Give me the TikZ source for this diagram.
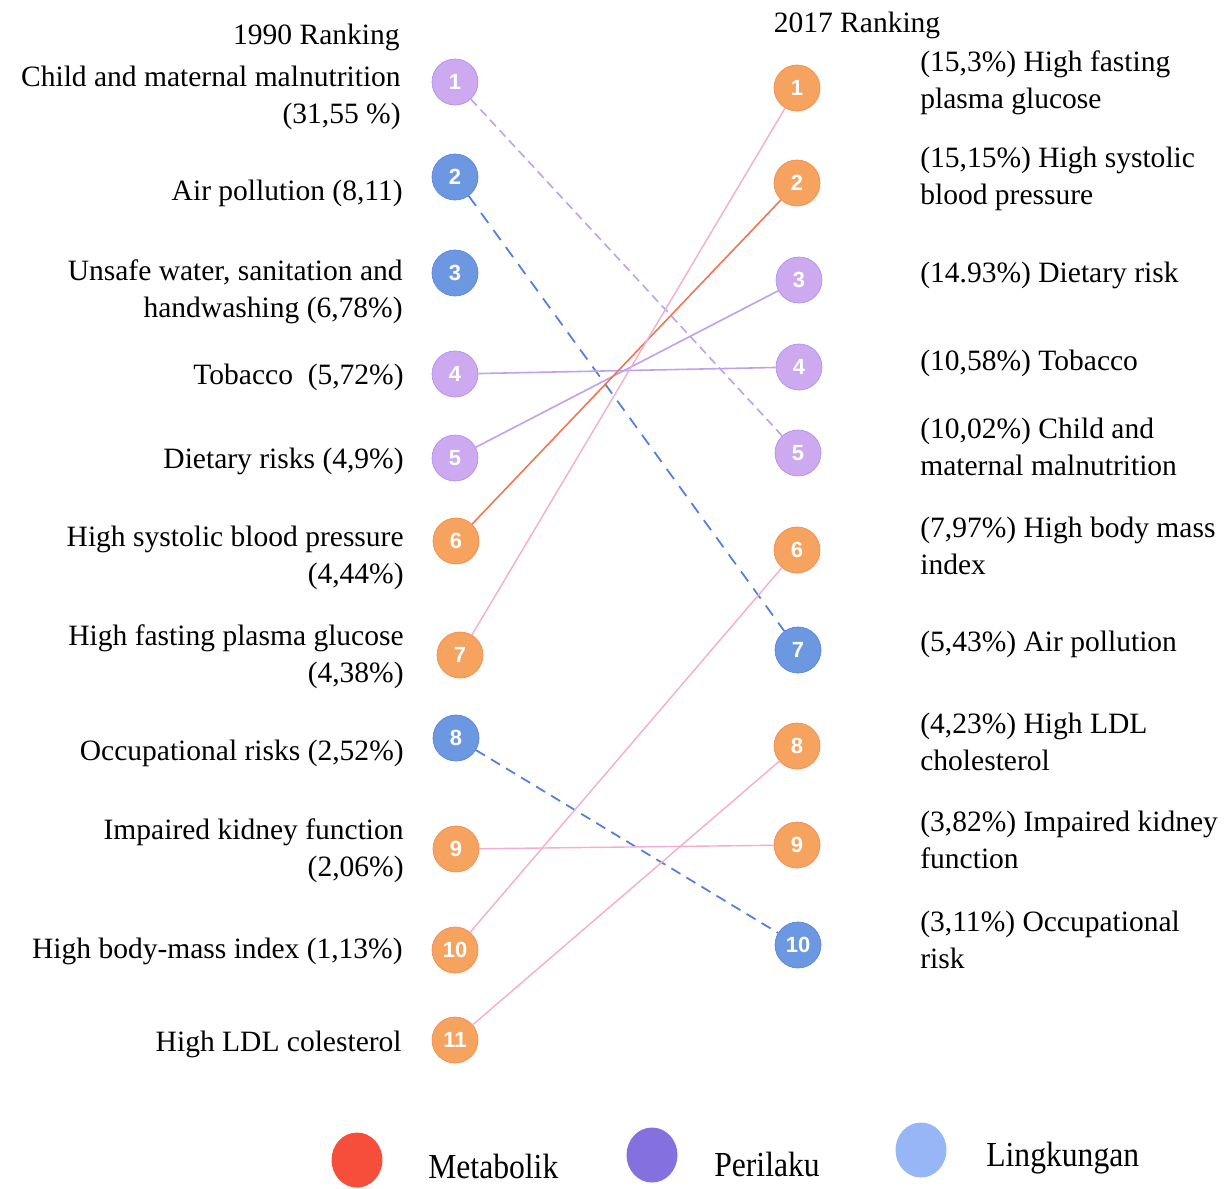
\documentclass[tikz,border=0pt]{standalone}
\usepackage{fontspec}
\setmainfont{Liberation Serif}
\setsansfont{Liberation Sans}
\usetikzlibrary{positioning,shapes.geometric}

\definecolor{metab}{RGB}{245,163,95}
\definecolor{perilaku}{RGB}{205,170,240}
\definecolor{lingk}{RGB}{108,152,226}
\definecolor{lnlav}{RGB}{190,160,240}
\definecolor{lnblue}{RGB}{80,128,222}
\definecolor{lnred}{RGB}{240,118,80}
\definecolor{lnpink}{RGB}{246,172,204}
\definecolor{legred}{RGB}{246,78,58}
\definecolor{legpur}{RGB}{132,112,222}
\definecolor{legblue}{RGB}{150,182,246}

\tikzset{
  rank/.style={circle,minimum size=0.92cm,inner sep=0pt,text=white,
    font=\sffamily\bfseries\fontsize{12.5}{13}\selectfont},
  met/.style={rank,fill=metab,draw=metab!85!red,line width=0.4pt},
  per/.style={rank,fill=perilaku,draw=perilaku!85!blue,line width=0.4pt},
  env/.style={rank,fill=lingk,draw=lingk!85!blue,line width=0.4pt},
  lbl/.style={font=\fontsize{16.8}{21}\selectfont,inner sep=0pt},
  lleft/.style={lbl,anchor=east,align=right},
  lright/.style={lbl,anchor=west,align=left},
  leg/.style={ellipse,minimum width=1.02cm,minimum height=1.1cm,inner sep=0pt},
  legtext/.style={font=\fontsize{20}{22}\selectfont,inner sep=0pt,xscale=0.9}
}

\begin{document}
\begin{tikzpicture}[x=0.02cm,y=-0.02cm]
  \useasboundingbox (0,0) rectangle (1226,1188);

  % headings
  \node[lbl,anchor=east] (head90) at (400,37) {1990 Ranking};
  \node[lbl] (head17) at (857,25) {2017 Ranking};

  % 1990 ranks
  \node[per] (l1) at (455,82) {1};
  \node[env] (l2) at (455,177) {2};
  \node[env] (l3) at (455,273) {3};
  \node[per] (l4) at (455,374) {4};
  \node[per] (l5) at (455,458) {5};
  \node[met] (l6) at (456,541) {6};
  \node[met] (l7) at (460,655) {7};
  \node[env] (l8) at (456,738) {8};
  \node[met] (l9) at (456,849) {9};
  \node[met] (l10) at (455,950) {10};
  \node[met] (l11) at (455,1040) {11};

  % 2017 ranks
  \node[met] (r1) at (797,88) {1};
  \node[met] (r2) at (797,183) {2};
  \node[per] (r3) at (799,280) {3};
  \node[per] (r4) at (799,367) {4};
  \node[per] (r5) at (798,453) {5};
  \node[met] (r6) at (797,550) {6};
  \node[env] (r7) at (798,650) {7};
  \node[met] (r8) at (797,746) {8};
  \node[met] (r9) at (797,845) {9};
  \node[env] (r10) at (798,945) {10};

  % left labels
  \node[lleft] (t1) at (401,98) {Child and maternal malnutrition\\(31,55 \%)};
  \node[lleft] (t2) at (403,193) {Air pollution (8,11)};
  \node[lleft] (t3) at (403,292) {Unsafe water, sanitation and\\handwashing (6,78\%)};
  \node[lleft] (t4) at (404,377) {Tobacco\enspace(5,72\%)};
  \node[lleft] (t5) at (404,461) {Dietary risks (4,9\%)};
  \node[lleft] (t6) at (404,558) {High systolic blood pressure\\(4,44\%)};
  \node[lleft] (t7) at (404,657) {High fasting plasma glucose\\(4,38\%)};
  \node[lleft] (t8) at (404,753) {Occupational risks (2,52\%)};
  \node[lleft] (t9) at (404,851) {Impaired kidney function\\(2,06\%)};
  \node[lleft] (t10) at (403,951) {High body-mass index (1,13\%)};
  \node[lleft] (t11) at (402,1044) {High LDL colesterol};

  % right labels
  \node[lright] (s1) at (920,83) {(15,3\%) High fasting\\plasma glucose};
  \node[lright] (s2) at (920,179) {(15,15\%) High systolic\\blood pressure};
  \node[lright] (s3) at (920,275) {(14.93\%) Dietary risk};
  \node[lright] (s4) at (920,363) {(10,58\%) Tobacco};
  \node[lright] (s5) at (920,447) {(10,02\%) Child and\\maternal malnutrition};
  \node[lright] (s6) at (920,546) {(7,97\%) High body mass\\index};
  \node[lright] (s7) at (920,644) {(5,43\%) Air pollution};
  \node[lright] (s8) at (920,742) {(4,23\%) High LDL\\cholesterol};
  \node[lright] (s9) at (920,840) {(3,82\%) Impaired kidney\\function};
  \node[lright] (s10) at (920,940) {(3,11\%) Occupational\\risk};

  % rank changes
  \draw[lnlav,line width=0.9pt,dash pattern=on 5pt off 3pt] (l1) -- (r5);
  \draw[lnblue,line width=1pt,dash pattern=on 7pt off 5pt] (l2) -- (r7);
  \draw[lnlav,line width=0.9pt] (l4) -- (r4);
  \draw[lnlav,line width=0.9pt] (l5) -- (r3);
  \draw[lnred,line width=0.9pt] (l6) -- (r2);
  \draw[lnpink,line width=0.8pt] (l7) -- (r1);
  \draw[lnblue,line width=1pt,dash pattern=on 6pt off 4pt] (l8) -- (r10);
  \draw[lnpink,line width=0.8pt] (l9) -- (r9);
  \draw[lnpink,line width=0.8pt] (l10) -- (r6);
  \draw[lnpink,line width=0.8pt] (l11) -- (r8);

  % legend
  \node[leg,fill=legred] (kmet) at (357,1160) {};
  \node[legtext,anchor=west] (kmettxt) at (428,1166) {Metabolik};
  \node[leg,fill=legpur] (kper) at (652,1155) {};
  \node[legtext,anchor=west] (kpertxt) at (714,1164) {Perilaku};
  \node[leg,fill=legblue] (kenv) at (921,1150) {};
  \node[legtext,anchor=west] (kenvtxt) at (986,1158) {Lingkungan};
\end{tikzpicture}
\end{document}
